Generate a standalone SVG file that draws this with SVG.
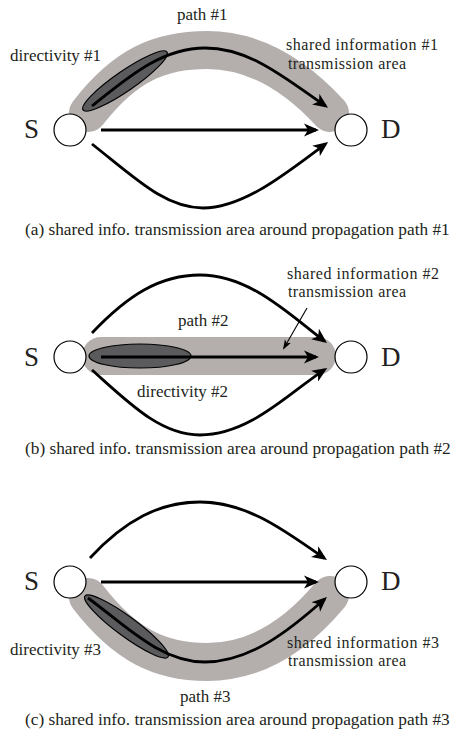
<svg xmlns="http://www.w3.org/2000/svg" width="456" height="739" viewBox="0 0 456 739">
<defs>
<style>
.band{fill:none;stroke:#b4afad;stroke-width:38;stroke-linecap:round;stroke-linejoin:round}
.dir{fill:#5b5b5d;stroke:#000;stroke-width:1.2}
.node{fill:#fff;stroke:#000;stroke-width:1.2}
.arr{fill:none;stroke:#000;stroke-width:2.8;marker-end:url(#ah)}
.lead{fill:none;stroke:#000;stroke-width:1.1;marker-end:url(#ah2)}
text{font-family:"Liberation Serif","Times New Roman",serif;fill:#231f20}
.lbl{font-size:17px}
.two{font-size:16px}
.cap{font-size:17.3px}
.big{font-size:27px}
</style>
<marker id="ah" viewBox="0 -7 16 14" refX="12" refY="0" markerWidth="16" markerHeight="14" markerUnits="userSpaceOnUse" orient="auto">
<path d="M0,-6.5 L15,0 L0,6.5 L4,0 z" fill="#000"/>
</marker>
<marker id="ah2" viewBox="0 -4 10 8" refX="8" refY="0" markerWidth="10" markerHeight="8" markerUnits="userSpaceOnUse" orient="auto">
<path d="M0,-3.5 L10,0 L0,3.5 L2.5,0 z" fill="#000"/>
</marker>
</defs>

<!-- Panel (a) -->
<g id="panel-a">
<g id="a-area">
<path class="band" d="M88,113 C125,65 160,50 207,50 C255,50 295,75 330,113"/>
<ellipse class="dir" cx="125" cy="81" rx="51" ry="10" transform="rotate(-34.6 125 81)"/>
</g>
<g id="a-connectors">
<path class="arr" d="M92,106 C125,80 160,48 205,48 C250,48 285,78 325.6,106"/>
<path class="arr" d="M101,130 L316,130"/>
<path class="arr" d="M92,144 C135,178 165,208 203,208 C245,208 290,170 325.7,143.8"/>
</g>
<g id="a-S"><circle class="node" cx="70" cy="130" r="16"/><text class="big" x="24" y="138">S</text></g>
<g id="a-D"><circle class="node" cx="351" cy="130" r="16"/><text class="big" x="381" y="138">D</text></g>
<text class="lbl" x="177" y="20">path #1</text>
<text class="lbl" x="10" y="61">directivity #1</text>
<text class="two" x="286" y="50" textLength="152" lengthAdjust="spacing">shared information #1</text>
<text class="two" x="288" y="68.5" textLength="118" lengthAdjust="spacing">transmission area</text>
<text class="cap" x="25" y="235">(a) shared info. transmission area around propagation path #1</text>
</g>

<!-- Panel (b) -->
<g id="panel-b">
<g id="b-area">
<path class="band" d="M101,356 L317,356"/>
<ellipse class="dir" cx="140" cy="356" rx="51" ry="12"/>
</g>
<g id="b-connectors">
<path class="arr" d="M92,333 C128,295 160,275 200,275 C250,275 290,315 324.6,341.2"/>
<path class="arr" d="M101,357 L316,357"/>
<path class="arr" d="M92,370 C128,402 160,435 200,435 C250,435 290,392 324.7,369.6"/>
<path class="lead" d="M307,308 L284,348"/>
</g>
<g id="b-S"><circle class="node" cx="70" cy="357" r="16"/><text class="big" x="24" y="366">S</text></g>
<g id="b-D"><circle class="node" cx="351" cy="357" r="16"/><text class="big" x="381" y="366">D</text></g>
<text class="two" x="287" y="278.5" textLength="152" lengthAdjust="spacing">shared information #2</text>
<text class="two" x="288" y="297" textLength="118" lengthAdjust="spacing">transmission area</text>
<text class="lbl" x="178" y="326">path #2</text>
<text class="lbl" x="137" y="397">directivity #2</text>
<text class="cap" x="25" y="454">(b) shared info. transmission area around propagation path #2</text>
</g>

<!-- Panel (c) -->
<g id="panel-c">
<g id="c-area">
<path class="band" d="M88,597 C125,645 160,662 207,662 C255,662 295,637 330,595"/>
<ellipse class="dir" cx="126.5" cy="626.5" rx="51.5" ry="10" transform="rotate(36.3 126.5 626.5)"/>
</g>
<g id="c-connectors">
<path class="arr" d="M90,558 C125,520 160,502 200,502 C250,502 290,535 324.5,558.3"/>
<path class="arr" d="M101,582 L316,582"/>
<path class="arr" d="M88,598 C125,625 160,662 205,662 C250,662 290,630 324.7,599"/>
</g>
<g id="c-S"><circle class="node" cx="70" cy="582" r="16"/><text class="big" x="24" y="590">S</text></g>
<g id="c-D"><circle class="node" cx="351" cy="582" r="16"/><text class="big" x="381" y="590">D</text></g>
<text class="lbl" x="10" y="655">directivity #3</text>
<text class="two" x="287" y="647.5" textLength="152" lengthAdjust="spacing">shared information #3</text>
<text class="two" x="288" y="666" textLength="118" lengthAdjust="spacing">transmission area</text>
<text class="lbl" x="180" y="702">path #3</text>
<text class="cap" x="25" y="725">(c) shared info. transmission area around propagation path #3</text>
</g>
</svg>
